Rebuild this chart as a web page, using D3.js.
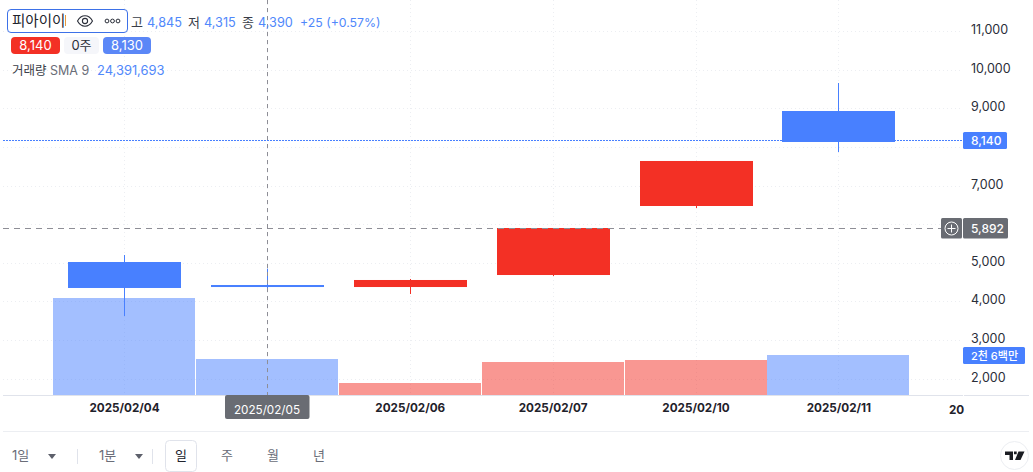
<!DOCTYPE html>
<html lang="ko">

<head>
	<meta charset="UTF-8">
	<title>피아이이</title>
	<style>
		html, body { margin: 0; padding: 0; background: #fff; overflow: hidden; }
		svg { display: block; }
		text { font-family: Inter, "Noto Sans CJK KR", sans-serif; }
	</style>
	<script src="https://cdn.jsdelivr.net/npm/d3@7"></script>
</head>

<body>
	<script type="text/javascript">
		// values
		const dates = ["2025/02/04", "2025/02/05", "2025/02/06", "2025/02/07", "2025/02/10", "2025/02/11"];
		const opens = [5018, 4422, 4370, 4681, 6469, 8930];
		const highs = [5199, 4845, 4578, 5899, 7635, 9655];
		const lows = [3619, 4315, 4189, 4655, 6417, 7868];
		const closes = [4345, 4370, 4552, 5899, 7635, 8127];
		const volumes = [63.05, 23.4, 7.8, 21.45, 22.75, 26]; // millions
		const priceTicks = [2000, 3000, 4000, 5000, 6000, 7000, 8000, 9000, 10000, 11000];
		const hiddenLabels = [6000, 8000]; // covered by the tags on the axis
		const lastPrice = 8140;
		const crossPrice = 5892;
		const crossDate = "2025/02/05";
		const lastVolume = 26;

		const width = 1033;
		const height = 472;
		const plotRight = 962;
		const axisY = 395;
		const blue = "#4880ff";
		const red = "#f33025";
		const textBlue = "#5088fb";
		const gray = "#696c73";

		const candles = dates.map((d, i) => ({ date: d, open: opens[i], high: highs[i], low: lows[i], close: closes[i], volume: volumes[i] }));

		const svg = d3.select("body").append("svg")
			.attr("width", width)
			.attr("height", height);

		const x = d3.scalePoint().domain(dates).range([124, 838.4]).round(false);
		const px = d => Math.round(x(d));
		const y = d3.scaleLinear().domain([4000, 9000]).range([301.3, 108.3]);
		const yVol = d3.scaleLinear().domain([0, 26]).range([axisY, 355]);
		const dirColor = d => d.close >= d.open ? red : blue;

		// grid
		svg.append("g").selectAll("line")
			.data(priceTicks)
			.join("line")
			.attr("x1", 3).attr("x2", plotRight)
			.attr("y1", d => Math.round(y(d)) + 0.5).attr("y2", d => Math.round(y(d)) + 0.5)
			.attr("stroke", "#eceef2")
			.attr("stroke-dasharray", "1 3");

		svg.append("g").selectAll("line")
			.data(dates)
			.join("line")
			.attr("x1", d => px(d) + 0.5).attr("x2", d => px(d) + 0.5)
			.attr("y1", 0).attr("y2", axisY)
			.attr("stroke", "#eceef2")
			.attr("stroke-dasharray", "1 3");

		// volume
		svg.append("g").selectAll("rect")
			.data(candles)
			.join("rect")
			.attr("x", d => px(d.date) - 71)
			.attr("width", 142)
			.attr("y", d => yVol(d.volume))
			.attr("height", d => axisY - yVol(d.volume))
			.attr("fill", dirColor)
			.attr("opacity", 0.5);

		// candles
		svg.append("g").selectAll("line")
			.data(candles)
			.join("line")
			.attr("x1", d => px(d.date) + 0.5).attr("x2", d => px(d.date) + 0.5)
			.attr("y1", d => y(d.high)).attr("y2", d => y(d.low))
			.attr("stroke", dirColor);

		svg.append("g").selectAll("rect")
			.data(candles)
			.join("rect")
			.attr("x", d => px(d.date) - 56)
			.attr("width", 113)
			.attr("y", d => y(Math.max(d.open, d.close)))
			.attr("height", d => Math.abs(y(d.open) - y(d.close)))
			.attr("fill", dirColor);

		// last price line and crosshair
		svg.append("line")
			.attr("x1", 3).attr("x2", plotRight)
			.attr("y1", Math.round(y(lastPrice)) - 0.5).attr("y2", Math.round(y(lastPrice)) - 0.5)
			.attr("stroke", blue)
			.attr("stroke-dasharray", "2 1");

		svg.append("line")
			.attr("x1", 3).attr("x2", 941)
			.attr("y1", Math.round(y(crossPrice)) + 0.5).attr("y2", Math.round(y(crossPrice)) + 0.5)
			.attr("stroke", "#8e8e96")
			.attr("stroke-dasharray", "6 5");

		svg.append("line")
			.attr("x1", px(crossDate) + 0.5).attr("x2", px(crossDate) + 0.5)
			.attr("y1", 0).attr("y2", axisY)
			.attr("stroke", "#8e8e96")
			.attr("stroke-dasharray", "4 4");

		// axis lines
		svg.append("line").attr("x1", 3).attr("x2", 963).attr("y1", axisY + 0.5).attr("y2", axisY + 0.5).attr("stroke", "#e0e3eb");
		svg.append("line").attr("x1", 964).attr("x2", 1029).attr("y1", axisY + 0.5).attr("y2", axisY + 0.5).attr("stroke", "#e0e3eb");
		svg.append("line").attr("x1", 3).attr("x2", 1029).attr("y1", 431.5).attr("y2", 431.5).attr("stroke", "#eceef2");

		// price axis
		const yAxis = svg.append("g")
			.attr("transform", "translate(971,-1.5)")
			.call(d3.axisRight(y).tickValues(priceTicks).tickSize(0).tickPadding(0)
				.tickFormat(d => hiddenLabels.includes(d) ? "" : d3.format(",")(d)));
		yAxis.select(".domain").remove();
		yAxis.selectAll("text")
			.attr("font-size", 12.5)
			.attr("fill", "#2a2e39")
			.style("font-family", "Inter, sans-serif");

		// time axis, the crosshair's date sits in its own tag
		const xAxis = svg.append("g")
			.attr("transform", "translate(0," + axisY + ")")
			.call(d3.axisBottom(x).tickSize(0).tickPadding(9)
				.tickFormat(d => d === crossDate ? "" : d));
		xAxis.select(".domain").remove();
		xAxis.selectAll("text")
			.attr("font-size", 11.7)
			.attr("font-weight", 700)
			.attr("fill", "#1f222b")
			.style("font-family", "Inter, sans-serif");

		svg.append("text")
			.attr("x", 956.5).attr("y", 414)
			.attr("text-anchor", "middle")
			.attr("font-size", 11.7).attr("font-weight", 700).attr("fill", "#1f222b")
			.text("20");

		function tag(x0, y0, w, h, fill, str, size) {
			svg.append("rect")
				.attr("x", x0).attr("y", y0).attr("width", w).attr("height", h)
				.attr("rx", 1.5)
				.attr("fill", fill);
			svg.append("text")
				.attr("x", x0 + 8)
				.attr("y", y0 + h / 2 + 4.5)
				.attr("font-size", size || 12)
				.attr("font-weight", 500)
				.attr("fill", "#fff")
				.text(str);
		}

		// axis tags
		tag(963, Math.round(y(lastPrice)) - 9, 44, 17, blue, d3.format(",")(lastPrice));
		tag(963, 218, 45, 20.5, gray, d3.format(",")(crossPrice));
		tag(963, Math.round(yVol(lastVolume)) - 8, 62, 17, blue, "2천 6백만", 11);

		svg.append("rect").attr("x", 225).attr("y", axisY).attr("width", 84.5).attr("height", 24).attr("rx", 2).attr("fill", gray);
		svg.append("text")
			.attr("x", 267).attr("y", axisY + 18.5)
			.attr("text-anchor", "middle")
			.attr("font-size", 11.7).attr("fill", "#fff")
			.text(crossDate);

		// plus button on the crosshair
		svg.append("rect").attr("x", 941).attr("y", 218).attr("width", 21).attr("height", 20.5).attr("rx", 1.5).attr("fill", gray);
		svg.append("circle").attr("cx", 951.5).attr("cy", 228.5).attr("r", 6.5).attr("fill", "none").attr("stroke", "#fff");
		svg.append("path").attr("d", "M947.5 228.5h8M951.5 224.5v8").attr("stroke", "#fff").attr("fill", "none");

		// legend
		function label(lx, ly, str, fill, size) {
			return svg.append("text")
				.attr("x", lx).attr("y", ly)
				.attr("font-size", size || 12.5)
				.attr("fill", fill)
				.text(str);
		}

		svg.append("rect")
			.attr("x", 7.5).attr("y", 9.5).attr("width", 120).attr("height", 23).attr("rx", 3.5)
			.attr("fill", "#fff").attr("stroke", "#3d71e8");
		label(12, 26, "피아이이", "#20232c", 14.5);
		svg.append("line").attr("x1", 65.5).attr("x2", 65.5).attr("y1", 15).attr("y2", 26).attr("stroke", "#e89a3c");

		// eye icon
		svg.append("path")
			.attr("d", "M77.5 21c2-3.600 4.600-5.200 7.500-5.200s5.500 1.600 7.500 5.200c-2 3.600-4.600 5.200-7.500 5.200s-5.500-1.600-7.500-5.200z")
			.attr("fill", "none").attr("stroke", "#2a2e39").attr("stroke-width", 1.1);
		svg.append("circle").attr("cx", 85).attr("cy", 21).attr("r", 2.6).attr("fill", "none").attr("stroke", "#2a2e39").attr("stroke-width", 1.1);

		// more dots
		svg.selectAll(".dot")
			.data([107, 112.5, 118])
			.join("circle")
			.classed("dot", true)
			.attr("cx", d => d).attr("cy", 21).attr("r", 1.9)
			.attr("fill", "none").attr("stroke", "#2a2e39");

		label(131, 27, "고", "#3a3e49", 13);
		label(147, 27, "4,845", textBlue, 12.7);
		label(188, 27, "저", "#3a3e49", 13);
		label(204, 27, "4,315", textBlue, 12.7);
		label(242, 27, "종", "#3a3e49", 13);
		label(258, 27, "4,390", textBlue, 12.7);
		label(300, 27, "+25 (+0.57%)", textBlue, 12.3);

		function pill(x0, w, fill, str, color) {
			svg.append("rect")
				.attr("x", x0).attr("y", 37).attr("width", w).attr("height", 17).attr("rx", 4)
				.attr("fill", fill);
			svg.append("text")
				.attr("x", x0 + w / 2).attr("y", 50)
				.attr("text-anchor", "middle")
				.attr("font-size", 13)
				.attr("fill", color)
				.text(str);
		}
		pill(11, 49, red, "8,140", "#fff");
		pill(64, 35, "#f5f6fa", "0주", "#2a2e39");
		pill(103, 48, "#5b87f7", "8,130", "#fff");

		label(12, 75, "거래량", "#3a3e49");
		label(50, 75, "SMA 9", "#6a6d78");
		label(97, 75, "24,391,693", textBlue, 12.9);

		// bottom toolbar
		const tbColor = "#6a6d78";
		label(12, 460, "1일", tbColor, 13);
		label(99, 460, "1분", tbColor, 13);
		svg.selectAll(".caret")
			.data([52, 139])
			.join("path")
			.classed("caret", true)
			.attr("d", d => `M${d - 4} 454h8l-4 5z`)
			.attr("fill", "#5d606b");
		svg.selectAll(".sep")
			.data([77.5, 152.5])
			.join("line")
			.classed("sep", true)
			.attr("x1", d => d).attr("x2", d => d)
			.attr("y1", 449).attr("y2", 464)
			.attr("stroke", "#e0e3eb");

		svg.append("rect")
			.attr("x", 165.5).attr("y", 440.5).attr("width", 31).attr("height", 31).attr("rx", 4)
			.attr("fill", "#fff").attr("stroke", "#e0e3eb");

		const periods = ["일", "주", "월", "년"];
		svg.selectAll(".period")
			.data(periods)
			.join("text")
			.classed("period", true)
			.attr("x", (d, i) => i === 0 ? 181 : 181 + 46 * i)
			.attr("y", 460)
			.attr("text-anchor", "middle")
			.attr("font-size", 13)
			.attr("fill", (d, i) => i === 0 ? "#20232c" : tbColor)
			.text(d => d);

		// tradingview mark
		svg.append("circle").attr("cx", 1014.5).attr("cy", 455.5).attr("r", 14).attr("fill", "#fff").attr("stroke", "#eceef2");
		svg.append("path")
			.attr("d", "M1005 451.500h8v8.500h-3.500v-5h-4.500zM1014 451.500h2.700v2.700h-2.700zM1018.500 451.500h6l-4 8.500h-5.500z")
			.attr("fill", "#1a1c22");
	</script>
</body>

</html>
